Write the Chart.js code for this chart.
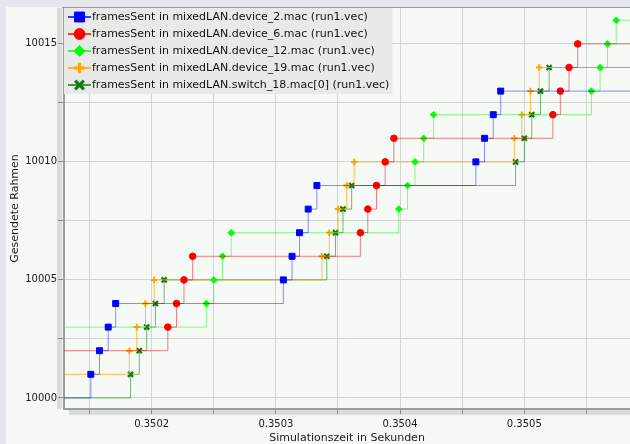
<!DOCTYPE html>
<html>
<head>
<meta charset="utf-8">
<script src="https://cdn.jsdelivr.net/npm/chart.js@4.4.1/dist/chart.umd.min.js"></script>
<style>
  html, body { margin: 0; padding: 0; background: #f5f8f5; }
  canvas { display: block; }
</style>
</head>
<body>
<canvas id="chart" width="630" height="444"></canvas>
<script>
// Recorded vectors: sample times (s) and the frame counter reached at each sample
const seriesNames = [
  'framesSent in mixedLAN.device_2.mac (run1.vec)',
  'framesSent in mixedLAN.device_6.mac (run1.vec)',
  'framesSent in mixedLAN.device_12.mac (run1.vec)',
  'framesSent in mixedLAN.device_19.mac (run1.vec)',
  'framesSent in mixedLAN.switch_18.mac[0] (run1.vec)'
];

// Counter value each vector holds when the visible window opens
const startFrames = [10000, 10002, 10003, 10001, 10000];

const device2Times = [0.350151, 0.350158, 0.350165, 0.350171, 0.350306, 0.350313, 0.350319,
                      0.350326, 0.350333, 0.350461, 0.350468, 0.350475, 0.350481];
const device2Frames = [10001, 10002, 10003, 10004, 10005, 10006, 10007,
                       10008, 10009, 10010, 10011, 10012, 10013];

const device6Times = [0.350213, 0.350220, 0.350226, 0.350233, 0.350368, 0.350374, 0.350381,
                      0.350388, 0.350395, 0.350523, 0.350529, 0.350536, 0.350543];
const device6Frames = [10003, 10004, 10005, 10006, 10007, 10008, 10009,
                       10010, 10011, 10012, 10013, 10014, 10015];

const device12Times = [0.350244, 0.350250, 0.350257, 0.350264, 0.350399, 0.350406, 0.350412,
                       0.350419, 0.350427, 0.350554, 0.350561, 0.350567, 0.350574];
const device12Frames = [10004, 10005, 10006, 10007, 10008, 10009, 10010,
                        10011, 10012, 10013, 10014, 10015, 10016];

const device19Times = [0.350182, 0.350188, 0.350195, 0.350202, 0.350337, 0.350343, 0.350350,
                       0.350357, 0.350363, 0.350492, 0.350498, 0.350505, 0.350512];
const device19Frames = [10002, 10003, 10004, 10005, 10006, 10007, 10008,
                        10009, 10010, 10011, 10012, 10013, 10014];

const switch18Times = [0.350183, 0.350190, 0.350196, 0.350203, 0.350210, 0.350341, 0.350348,
                       0.350354, 0.350361, 0.350493, 0.350500, 0.350506, 0.350513, 0.350520];
const switch18Frames = [10001, 10002, 10003, 10004, 10005, 10006, 10007,
                        10008, 10009, 10010, 10011, 10012, 10013, 10014];

// Axis window and tick spacing
const xWindow = [0.3501294, 0.3505851];
const yWindow = [9999.53, 10016.52];
const xTickStep = 0.00005;
const yTickStep = 2.5;

const FONT = '"DejaVu Sans", sans-serif';

const styles = [
  { mark: '#0000ff', line: 'rgba(0,0,255,0.45)',   shape: 'rect',     r: 4.2, lr: 7.0, bw: 1,   lbw: 1 },
  { mark: '#ff0000', line: 'rgba(235,0,0,0.5)',    shape: 'circle',   r: 3.3, lr: 5.4, bw: 1,   lbw: 1 },
  { mark: '#00ff00', line: 'rgba(0,235,0,0.45)',   shape: 'rectRot',  r: 3.3, lr: 5.6, bw: 1,   lbw: 1 },
  { mark: '#ffa500', line: 'rgba(255,165,0,0.7)',  shape: 'cross',    r: 3.3, lr: 5.2, bw: 2,   lbw: 3 },
  { mark: '#117711', line: 'rgba(0,128,0,0.55)',   shape: 'crossRot', r: 3.6, lr: 6.2, bw: 2.2, lbw: 3 }
];

const timeLists = [device2Times, device6Times, device12Times, device19Times, switch18Times];
const frameLists = [device2Frames, device6Frames, device12Frames, device19Frames, switch18Frames];

// Each vector holds its value from the left edge of the window and keeps its
// last value up to the right edge.
function buildPoints(i) {
  const pts = [{ x: xWindow[0], y: startFrames[i], edge: true }];
  timeLists[i].forEach((t, k) => pts.push({ x: t, y: frameLists[i][k] }));
  pts.push({ x: xWindow[1], y: frameLists[i][frameLists[i].length - 1], edge: true });
  return pts;
}

const datasets = seriesNames.map((name, i) => ({
  label: name,
  data: buildPoints(i),
  stepped: true,
  fill: false,
  borderColor: styles[i].line,
  borderWidth: 1,
  pointStyle: styles[i].shape,
  pointRadius: ctx => (ctx.raw && ctx.raw.edge) ? 0 : styles[i].r,
  pointBackgroundColor: styles[i].mark,
  pointBorderColor: styles[i].mark,
  pointBorderWidth: styles[i].bw,
  pointHoverRadius: 0
}));

// Window backdrop, plot background and the shaded axis strips
const backdrop = {
  id: 'backdrop',
  beforeDraw(chart) {
    const { ctx, chartArea: a, width, height } = chart;
    ctx.save();
    ctx.fillStyle = '#f5f8f5';
    ctx.fillRect(0, 0, width, height);
    ctx.fillStyle = '#e6e6ef';
    ctx.fillRect(0, 0, width, a.top - 1);
    ctx.fillRect(0, 0, 6, height);
    ctx.fillStyle = '#f6faf6';
    ctx.fillRect(a.left, a.top, a.right - a.left, a.bottom - a.top);
    ctx.fillStyle = '#d9dcd9';
    ctx.fillRect(a.left - 7, a.top, 5, a.bottom - a.top);
    ctx.fillRect(a.left + 5, a.bottom + 1, a.right - a.left - 5, 5);
    ctx.fillStyle = '#9a9a9a';
    ctx.fillRect(a.left - 2, a.top - 1, a.right - a.left + 2, 1);
    ctx.restore();
  }
};

// Legend panel in the upper-left corner of the plot: line sample, marker, name
const panelLegend = {
  id: 'panelLegend',
  afterDatasetsDraw(chart) {
    const { ctx, chartArea: a } = chart;
    const rowH = 17;
    ctx.save();
    ctx.font = '11px ' + FONT;
    const textW = Math.max(...seriesNames.map(n => ctx.measureText(n).width));
    const boxW = 28 + textW + 3;
    const boxH = rowH * seriesNames.length + 1;
    ctx.fillStyle = '#e7eae7';
    ctx.fillRect(a.left, a.top, boxW, boxH);
    seriesNames.forEach((name, i) => {
      const y = a.top + 9 + i * rowH;
      const st = styles[i];
      ctx.strokeStyle = st.mark;
      ctx.lineWidth = 1.5;
      ctx.beginPath();
      ctx.moveTo(a.left + 4, y);
      ctx.lineTo(a.left + 27, y);
      ctx.stroke();
      ctx.fillStyle = st.mark;
      ctx.strokeStyle = st.mark;
      ctx.lineWidth = st.lbw;
      Chart.helpers.drawPoint(ctx, { pointStyle: st.shape, radius: st.lr, borderWidth: st.lbw, rotation: 0 },
                              a.left + 15.5, y);
      ctx.fillStyle = '#111';
      ctx.textBaseline = 'middle';
      ctx.textAlign = 'left';
      ctx.fillText(name, a.left + 28, y + 0.5);
    });
    ctx.restore();
  }
};

const tickFont = { family: FONT, size: 10 };
const titleFont = { family: FONT, size: 11 };

new Chart(document.getElementById('chart'), {
  type: 'line',
  data: { datasets },
  plugins: [backdrop, panelLegend],
  options: {
    responsive: false,
    animation: false,
    devicePixelRatio: 1,
    events: [],
    layout: { padding: { top: 8, right: 0, bottom: 0, left: 0 } },
    plugins: { legend: { display: false }, tooltip: { enabled: false } },
    scales: {
      x: {
        type: 'linear',
        position: 'bottom',
        min: xWindow[0],
        max: xWindow[1],
        afterFit(s) { s.height = 35; },
        border: { color: '#9c9c9c', width: 2 },
        grid: { color: '#d2d6d2', lineWidth: 1, tickLength: 5, tickColor: '#8c8c8c' },
        ticks: {
          stepSize: xTickStep,
          includeBounds: false,
          autoSkip: false,
          maxRotation: 0,
          padding: 4,
          color: '#1a1a1a',
          font: tickFont,
          callback: v => (Math.round(v * 1e5) % 10 === 0 ? v.toFixed(4) : '')
        },
        title: {
          display: true,
          text: 'Simulationszeit in Sekunden',
          color: '#1a1a1a',
          font: titleFont,
          padding: { top: 0, bottom: -1 }
        }
      },
      y: {
        type: 'linear',
        position: 'left',
        min: yWindow[0],
        max: yWindow[1],
        afterFit(s) { s.width = 64; },
        border: { color: '#9c9c9c', width: 2 },
        grid: { color: '#d2d6d2', lineWidth: 1, tickLength: 6, tickColor: '#8c8c8c' },
        ticks: {
          stepSize: yTickStep,
          includeBounds: false,
          autoSkip: false,
          padding: 1,
          color: '#1a1a1a',
          font: tickFont,
          callback: v => (v % 5 === 0 ? String(v) : '')
        },
        title: {
          display: true,
          text: 'Gesendete Rahmen',
          color: '#1a1a1a',
          font: titleFont,
          padding: { top: 9, bottom: 0 }
        }
      }
    }
  }
});
</script>
</body>
</html>
